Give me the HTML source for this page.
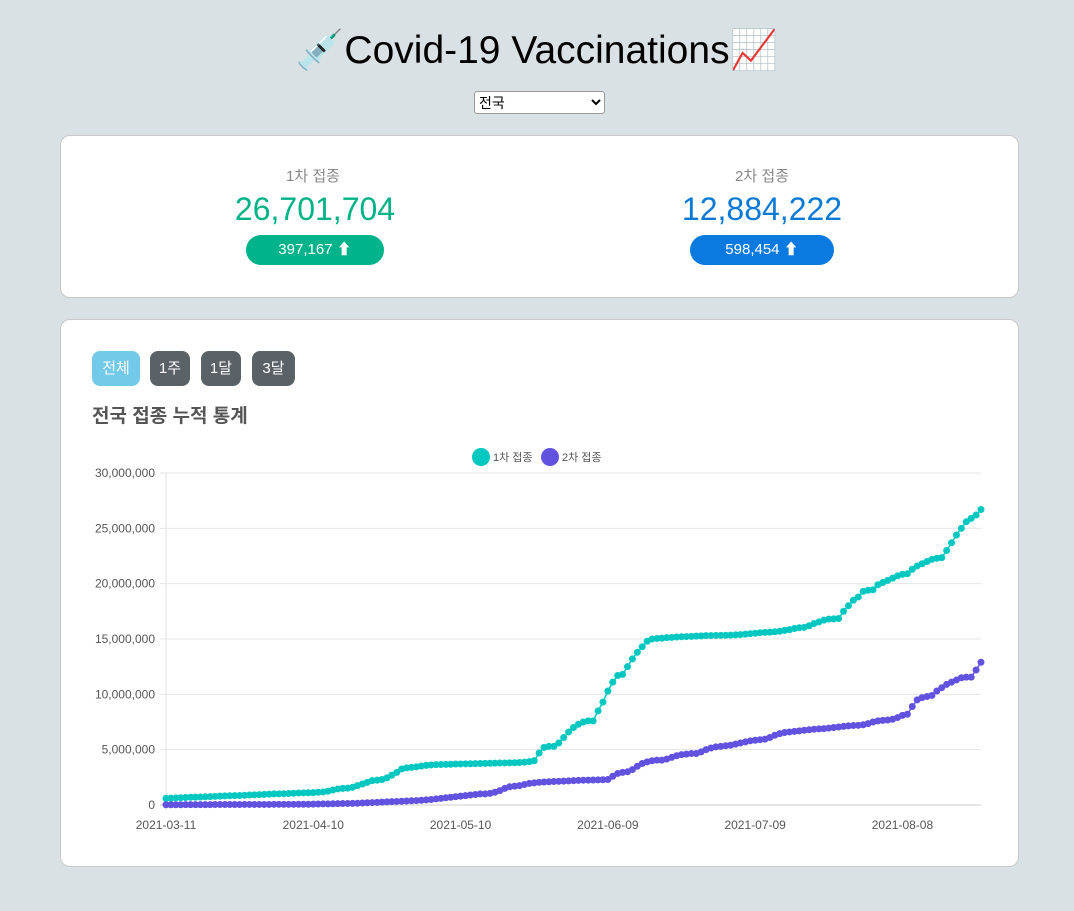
<!DOCTYPE html>
<html><head><meta charset="utf-8">
<style>
body{margin:0;width:1074px;height:911px;background:#dae1e5;font-family:"Liberation Sans","Noto Sans CJK KR",sans-serif;position:relative;overflow:hidden}
.abs{position:absolute}
h1{position:absolute;left:0;width:1074px;top:27px;margin:0;text-align:center;font-size:39px;font-weight:normal;color:#000}
select{position:absolute;left:474px;top:91px;width:131px;height:23px;font-size:14px;font-family:"Liberation Sans","Noto Sans CJK KR",sans-serif;background:#fff;border:1px solid #999;border-radius:3px}
.card{position:absolute;left:60px;width:957px;background:#fff;border:1px solid #c8c8c8;border-radius:10px}
.lbl{position:absolute;width:300px;text-align:center;color:#888;font-size:15px}
.num{position:absolute;width:300px;text-align:center;font-size:32px}
.pill{position:absolute;height:30px;line-height:30px;border-radius:15px;color:#fff;text-align:center;font-size:15px}
.btn{position:absolute;top:351px;height:35px;line-height:35px;border-radius:8px;color:#fff;text-align:center;font-size:15px;background:#5a6268}
</style></head><body>
<h1>💉Covid-19 Vaccinations📈</h1>
<select><option>전국</option></select>
<div class="card" style="top:135px;height:161px"></div>
<div class="lbl" style="left:163px;top:165px">1차 접종</div>
<div class="num" style="left:165px;top:191px;color:#00b386">26,701,704</div>
<div class="pill" style="left:246px;top:235px;width:138px;background:#00b38a">397,167 ⬆</div>
<div class="lbl" style="left:612px;top:165px">2차 접종</div>
<div class="num" style="left:612px;top:191px;color:#0a7ad6">12,884,222</div>
<div class="pill" style="left:690px;top:235px;width:144px;background:#0a7ae0">598,454 ⬆</div>
<div class="card" style="top:319px;height:546px"></div>
<div class="btn" style="left:92px;width:48px;background:#73c9e8">전체</div>
<div class="btn" style="left:150px;width:40px">1주</div>
<div class="btn" style="left:201px;width:40px">1달</div>
<div class="btn" style="left:252px;width:43px">3달</div>
<div class="abs" style="left:92px;top:401px;font-size:19px;font-weight:bold;color:#555">전국 접종 누적 통계</div>
<svg id="chart" class="abs" style="left:0;top:0" width="1074" height="911"></svg>
<script>
const startDate = "2021-03-11";
const yTicks = [0,5000000,10000000,15000000,20000000,25000000,30000000];
const xTickIdx = [0,30,60,90,120,150];
const firstDose = [0.60,0.62,0.64,0.66,0.68,0.70,0.71,0.72,0.74,0.76,0.78,0.80,0.82,0.84,0.85,0.86,0.88,0.90,0.92,0.94,0.96,0.98,1.00,1.01,1.02,1.04,1.06,1.08,1.10,1.11,
1.12,1.15,1.18,1.25,1.35,1.45,1.50,1.52,1.60,1.75,1.90,2.05,2.20,2.25,2.30,2.45,2.70,2.95,3.25,3.35,3.40,3.45,3.52,3.58,3.62,3.65,3.66,3.67,3.68,3.70,
3.71,3.72,3.73,3.74,3.75,3.76,3.77,3.78,3.79,3.80,3.81,3.82,3.84,3.87,3.92,4.00,4.70,5.20,5.30,5.30,5.60,6.10,6.60,7.00,7.30,7.50,7.60,7.60,8.50,9.30,
10.30,11.10,11.70,11.80,12.50,13.20,13.80,14.30,14.80,15.00,15.05,15.08,15.12,15.15,15.18,15.20,15.22,15.24,15.26,15.28,15.30,15.31,15.32,15.33,15.34,15.35,15.37,15.40,15.44,15.48,
15.52,15.56,15.60,15.62,15.65,15.70,15.78,15.85,15.95,16.02,16.05,16.20,16.40,16.55,16.70,16.80,16.82,16.85,17.50,18.00,18.50,18.80,19.30,19.40,19.45,19.90,20.10,20.30,20.50,20.70,
20.85,20.90,21.30,21.60,21.80,22.00,22.20,22.30,22.35,23.00,23.70,24.40,25.00,25.60,25.90,26.20,26.70];
const secondDose = [0.02,0.02,0.02,0.02,0.03,0.03,0.03,0.03,0.03,0.03,0.04,0.04,0.04,0.04,0.04,0.04,0.05,0.05,0.05,0.05,0.05,0.05,0.06,0.06,0.06,0.06,0.06,0.07,0.07,0.07,
0.08,0.09,0.10,0.10,0.11,0.12,0.13,0.14,0.15,0.16,0.18,0.20,0.22,0.24,0.26,0.28,0.30,0.32,0.34,0.36,0.38,0.40,0.43,0.46,0.50,0.55,0.60,0.65,0.70,0.75,
0.80,0.85,0.90,0.95,1.00,1.00,1.05,1.15,1.30,1.50,1.65,1.70,1.75,1.85,1.95,2.00,2.05,2.08,2.10,2.12,2.14,2.16,2.18,2.20,2.22,2.24,2.25,2.26,2.27,2.28,
2.30,2.60,2.85,2.95,3.00,3.20,3.50,3.75,3.90,4.00,4.05,4.05,4.15,4.30,4.45,4.55,4.60,4.65,4.65,4.80,5.00,5.15,5.25,5.30,5.35,5.40,5.50,5.60,5.70,5.80,
5.85,5.90,5.95,6.10,6.30,6.45,6.55,6.60,6.65,6.70,6.75,6.80,6.85,6.88,6.90,6.95,7.00,7.05,7.10,7.15,7.18,7.20,7.25,7.35,7.50,7.60,7.65,7.68,7.75,7.90,
8.10,8.20,8.90,9.50,9.70,9.80,9.90,10.30,10.60,10.90,11.10,11.30,11.50,11.55,11.55,12.20,12.90];
const seriesNames = ["1차 접종","2차 접종"];
const seriesColors = ["#00c8c0","#6152e0"];

const svg = document.getElementById('chart');
const NS = "http://www.w3.org/2000/svg";
const X0=166, X1=981, Y0=805, Y1=473, N=firstDose.length;
const xs = i => X0 + i*(X1-X0)/(N-1);
const ys = v => Y0 - v/30000000*(Y0-Y1);
function mk(t,a){const e=document.createElementNS(NS,t);for(const k in a)e.setAttribute(k,a[k]);svg.appendChild(e);return e;}
function dateStr(i){const d=new Date(Date.UTC(2021,2,11+i));return d.toISOString().slice(0,10);}
yTicks.forEach(t=>{
  const g=mk('line',{x1:160,x2:X1,y1:ys(t),y2:ys(t),stroke:t===0?'#ccc':'#e5e5e5','stroke-width':1});
  
  
  const tx=mk('text',{x:155,y:ys(t)+4,'text-anchor':'end','font-size':12,fill:'#555','font-family':'Liberation Sans, sans-serif'});
  tx.textContent=t.toLocaleString('en-US');
  
  
});
const ax=mk('line',{x1:X0,x2:X0,y1:Y1,y2:Y0+5,stroke:'#e0e0e0'});


xTickIdx.forEach(i=>{
  const tx=mk('text',{x:xs(i),y:829,'text-anchor':'middle','font-size':12,fill:'#555','font-family':'Liberation Sans, sans-serif'});
  tx.textContent=dateStr(i);
  
  
});
[firstDose,secondDose].forEach((arr,s)=>{
  const pts=arr.map((v,i)=>xs(i)+','+ys(v*1e6)).join(' ');
  const pl=mk('polyline',{points:pts,fill:'none',stroke:seriesColors[s],'stroke-width':1.5});
  
  
  arr.forEach((v,i)=>{
    const c=mk('circle',{cx:xs(i),cy:ys(v*1e6),r:3.5,fill:seriesColors[s]});
    
    
  });
});
const legX=[481,550];
seriesNames.forEach((n,s)=>{
  const c=mk('circle',{cx:legX[s],cy:457,r:9,fill:seriesColors[s]});
  
  
  const t=mk('text',{x:legX[s]+12,y:461,'font-size':11,fill:'#555','font-family':'Liberation Sans, Noto Sans CJK KR, sans-serif'});
  t.textContent=n;
  
  
});
</script>
</body></html>
